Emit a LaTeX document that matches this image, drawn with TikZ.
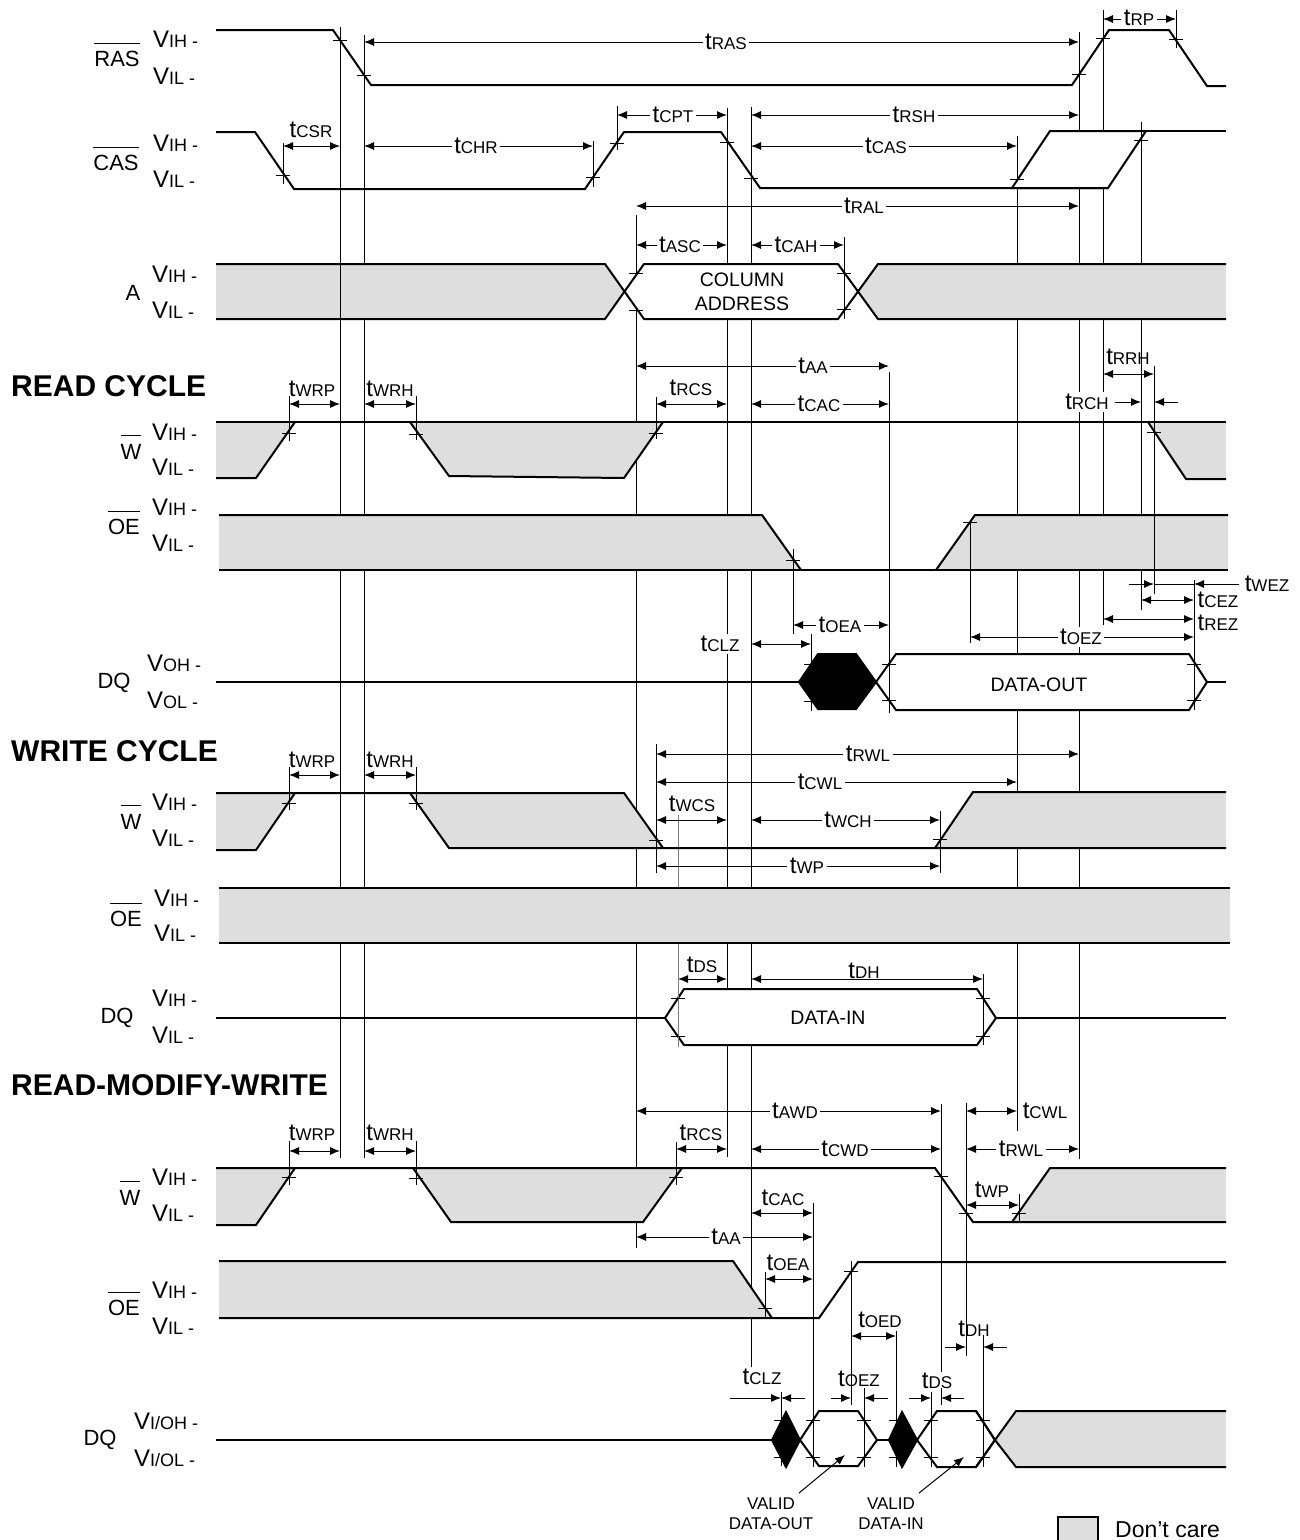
\documentclass[tikz,border=0pt]{standalone}
\usepackage{fontspec}
\setmainfont{Liberation Sans}
\usetikzlibrary{arrows.meta}
\definecolor{dontcare}{HTML}{DEDEDE}
\tikzset{
  sig/.style={line width=2pt,line join=miter},
  vln/.style={line width=1pt},
  tipln/.style={line width=1pt,-{Latex[length=10pt,width=8pt]}},
  dimln/.style={line width=1pt,{Latex[length=10pt,width=8pt]}-{Latex[length=10pt,width=8pt]}},
  tlb/.style={fill=white,inner sep=2.5pt},
  tnf/.style={inner sep=0pt},
  vlb/.style={anchor=west,inner sep=0pt},
  siglb/.style={inner sep=0pt,font=\fontsize{22}{22}\selectfont},
  boxlb/.style={inner sep=0pt,font=\fontsize{19.5}{24}\selectfont,align=center},
  smlb/.style={inner sep=0pt,font=\fontsize{17}{20}\selectfont,align=center},
  cyclb/.style={anchor=west,inner sep=0pt,font=\fontsize{30}{30}\selectfont\bfseries}
}
\newcommand{\tlab}[1]{{\fontsize{24}{24}\selectfont t}{\fontsize{17}{17}\selectfont #1}}
\newcommand{\vlab}[1]{{\fontsize{24}{24}\selectfont V}{\fontsize{18}{18}\selectfont #1}}
\newcommand{\sigbar}[1]{$\overline{\mbox{\rule{0pt}{22pt}#1}}$}
% [style]{from}{to}{y}{label x}{label y}{name}
\newcommand{\tdim}[7][tlb]{\draw[dimln] (#2,#4) -- (#3,#4); \node[#1] (t#7) at (#5,#6) {\tlab{#7}};}
\newcommand{\levels}[6]{\node[vlb] (#1h) at (#2,#3) {\vlab{#5}}; \node[vlb] (#1l) at (#2,#4) {\vlab{#6}};}
\begin{document}
\begin{tikzpicture}[x=1pt,y=-1pt]
\useasboundingbox (0,0) rectangle (1300,1540);

% long timing lines, the signals below hide them
\foreach \x/\ya/\yb in {340/27/1158,364/35/1158,636/215/1248,727/108/1157,751/107/1367,
  1017/136/1131,1079/32/1159,1103/10/625,1141/122/610,889/372/713}
  \draw[vln] (\x,\ya) -- (\x,\yb);
\draw[vln,gray] (678,815) -- (678,1047);

% RAS, CAS
\draw[sig] (216,30) -- (333,30) -- (371,85) -- (1072,85) -- (1109,30) -- (1169,30) -- (1207,86) -- (1226,86);
\filldraw[sig,fill=white] (1012,188) -- (1050,131) -- (1146,131) -- (1108,188) -- cycle;
\draw[sig] (216,132) -- (255,132) -- (294,189) -- (585,189) -- (624,132) -- (721,132) -- (760,188) -- (1108,188);
\draw[sig] (1146,131) -- (1226,131);

% A
\fill[dontcare] (216,264) -- (605,264) -- (624.5,292) -- (605,319) -- (216,319) -- cycle;
\fill[dontcare] (858,292) -- (878,264) -- (1226,264) -- (1226,319) -- (878,319) -- cycle;
\fill[white] (624.5,292) -- (644,264) -- (838,264) -- (858,292) -- (838,319) -- (644,319) -- cycle;
\draw[sig] (216,264) -- (605,264) -- (644,319) -- (838,319) -- (878,264) -- (1226,264);
\draw[sig] (216,319) -- (605,319) -- (644,264) -- (838,264) -- (878,319) -- (1226,319);

% read cycle W, OE, DQ
\fill[dontcare] (216,422) -- (295,422) -- (256,478) -- (216,478) -- cycle;
\fill[dontcare] (410,422) -- (663,422) -- (624,478) -- (449,476) -- cycle;
\fill[dontcare] (1148,422) -- (1226,422) -- (1226,479) -- (1186,479) -- cycle;
\draw[sig] (216,478) -- (256,478) -- (295,422);
\draw[sig] (216,422) -- (1226,422);
\draw[sig] (410,422) -- (449,476) -- (624,478) -- (663,422);
\draw[sig] (1148,422) -- (1186,479) -- (1226,479);
\fill[dontcare] (219,515) -- (762,515) -- (801,570) -- (219,570) -- cycle;
\fill[dontcare] (936,570) -- (975,515) -- (1228,515) -- (1228,570) -- cycle;
\draw[sig] (219,515) -- (762,515) -- (801,570);
\draw[sig] (936,570) -- (975,515) -- (1228,515);
\draw[sig] (219,570) -- (1228,570);
\draw[sig] (216,682) -- (799,682);
\draw[sig] (1207,682) -- (1226,682);
\filldraw[sig,fill=black] (799,682) -- (818,654) -- (856,654) -- (876,682) -- (856,709) -- (818,709) -- cycle;
\filldraw[sig,fill=white] (876,682) -- (896,654) -- (1189,654) -- (1207,682) -- (1189,710) -- (896,710) -- cycle;

% write cycle W, OE, DQ
\fill[dontcare] (216,793) -- (295,793) -- (256,850) -- (216,850) -- cycle;
\fill[dontcare] (410,793) -- (624,793) -- (663,848) -- (449,848) -- cycle;
\fill[dontcare] (935,848) -- (973,792) -- (1226,792) -- (1226,848) -- cycle;
\draw[sig] (216,850) -- (256,850) -- (295,793);
\draw[sig] (216,793) -- (624,793) -- (663,848);
\draw[sig] (410,793) -- (449,848) -- (1226,848);
\draw[sig] (935,848) -- (973,792) -- (1226,792);
\fill[dontcare] (219,888) rectangle (1230,943);
\draw[sig] (219,888) -- (1230,888);
\draw[sig] (219,943) -- (1230,943);
\draw[sig] (216,1018) -- (665,1018);
\draw[sig] (996,1018) -- (1226,1018);
\filldraw[sig,fill=white] (665,1018) -- (684,989) -- (977,989) -- (996,1018) -- (977,1045) -- (684,1045) -- cycle;

% read-modify-write W, OE, DQ
\fill[dontcare] (216,1168) -- (295,1168) -- (256,1225) -- (216,1225) -- cycle;
\fill[dontcare] (413,1168) -- (682,1168) -- (643,1222) -- (451,1222) -- cycle;
\fill[dontcare] (1012,1223) -- (1050,1168) -- (1226,1168) -- (1226,1223) -- cycle;
\draw[sig] (216,1225) -- (256,1225) -- (295,1168);
\draw[sig] (216,1168) -- (935,1168) -- (973,1222) -- (1226,1222);
\draw[sig] (413,1168) -- (451,1222) -- (643,1222) -- (682,1168);
\draw[sig] (1012,1222) -- (1050,1168) -- (1226,1168);
\fill[dontcare] (219,1261) -- (733,1261) -- (772,1318) -- (219,1318) -- cycle;
\draw[sig] (219,1261) -- (733,1261) -- (772,1318);
\draw[sig] (219,1318) -- (819,1318) -- (858,1262) -- (1226,1262);
\draw[sig] (216,1440) -- (772,1440);
\draw[sig] (877,1440) -- (889,1440);
\filldraw[sig,fill=black] (772,1440) -- (786,1412) -- (800,1440) -- (786,1467) -- cycle;
\filldraw[sig,fill=white] (800,1440) -- (819,1411) -- (858,1411) -- (877,1440) -- (858,1466) -- (819,1466) -- cycle;
\filldraw[sig,fill=black] (889,1440) -- (902,1412) -- (917,1440) -- (902,1467) -- cycle;
\filldraw[sig,fill=white] (917,1440) -- (937,1411) -- (976,1411) -- (995,1440) -- (976,1467) -- (937,1467) -- cycle;
\fill[dontcare] (995,1440) -- (1016,1411) -- (1226,1411) -- (1226,1467) -- (1016,1467) -- cycle;
\draw[sig] (976,1411) -- (995,1440) -- (1016,1467) -- (1226,1467);
\draw[sig] (976,1467) -- (995,1440) -- (1016,1411) -- (1226,1411);

% short lines on top of the signals
\foreach \x/\ya/\yb in {340/264/319,1141/122/145,1176/10/48,283/143/184,593/141/187,617/106/150,844/237/319,
  289/396/441,416/396/440,656/397/439,1154/366/594,793/549/634,970/522/643,811/634/711,889/655/713,1194/580/710,
  289/767/810,416/767/810,656/744/873,940/811/873,983/974/1045,
  289/1141/1185,416/1141/1185,676/1142/1185,941/1104/1372,966/1103/1356,1019/1194/1222,
  813/1203/1467,765/1272/1318,851/1261/1405,864/1388/1467,896/1331/1467,781/1392/1466,931/1392/1467,941/1388/1405,983/1335/1467}
  \draw[vln] (\x,\ya) -- (\x,\yb);
\draw[vln,gray] (678,989) -- (678,1047);

% ticks
\foreach \x/\y in {340/40,364/75,1079/74,1103/38,1176/39,283/175,593/177,617/143,727/142,751/178,1017/179,1141/140,
  636/273,636/310,844/273,844/309,289/433,416/434,656/433,1154/432,793/560,970/522,811/664,811/701,889/664,889/700,1194/664,1194/700,
  289/803,416/803,656/840,940/839,678/998,678/1036,983/998,983/1036,
  289/1177,416/1178,676/1177,941/1176,966/1213,1019/1213,765/1308,851/1271,
  781/1420,781/1457,813/1420,813/1457,864/1420,864/1457,896/1420,896/1457,931/1420,931/1457,983/1420,983/1457}
  \draw[vln] (\x-7,\y) -- (\x+7,\y);

% signal names and levels
\node[siglb] (ras) at (117,55) {\sigbar{RAS}};
\levels{ras}{153}{39}{76}{IH -}{IL -}
\node[siglb] (cas) at (116,159) {\sigbar{CAS}};
\levels{cas}{153}{143}{179}{IH -}{IL -}
\node[siglb] (addr) at (133,293) {A};
\levels{addr}{152}{274}{310}{IH -}{IL -}
\node[siglb] (wrd) at (131,447) {\sigbar{W}};
\levels{wrd}{152}{432}{467}{IH -}{IL -}
\node[siglb] (oerd) at (124,523) {\sigbar{OE}};
\levels{oerd}{152}{507}{543}{IH -}{IL -}
\node[siglb] (dqrd) at (114,683) {DQ};
\levels{dqrd}{147}{663}{700}{OH -}{OL -}
\node[siglb] (wwr) at (131,817) {\sigbar{W}};
\levels{wwr}{152}{802}{838}{IH -}{IL -}
\node[siglb] (oewr) at (126,915) {\sigbar{OE}};
\levels{oewr}{154}{898}{933}{IH -}{IL -}
\node[siglb] (dqwr) at (117,1018) {DQ};
\levels{dqwr}{152}{998}{1035}{IH -}{IL -}
\node[siglb] (wrm) at (130,1193) {\sigbar{W}};
\levels{wrm}{152}{1177}{1213}{IH -}{IL -}
\node[siglb] (oerm) at (124,1304) {\sigbar{OE}};
\levels{oerm}{152}{1290}{1326}{IH -}{IL -}
\node[siglb] (dqrm) at (100,1440) {DQ};
\levels{dqrm}{134}{1421}{1458}{I/OH -}{I/OL -}

\node[cyclb] (rdcyc) at (11,386) {READ CYCLE};
\node[cyclb] (wrcyc) at (11,751) {WRITE CYCLE};
\node[cyclb] (rmcyc) at (11,1085) {READ-MODIFY-WRITE};

\node[boxlb] (coladdr) at (742,292) {COLUMN\\ADDRESS};
\node[boxlb] (dout) at (1039,685) {DATA-OUT};
\node[boxlb] (din) at (828,1018) {DATA-IN};

% top three signals
\tdim{364}{1079}{42}{726}{42}{RAS}
\tdim{1103}{1176}{19}{1139}{18}{RP}
\tdim[tnf]{283}{340}{146}{311}{130}{CSR}
\tdim{364}{593}{146}{476}{146}{CHR}
\tdim{617}{727}{115}{673}{115}{CPT}
\tdim{751}{1079}{115}{914}{115}{RSH}
\tdim{751}{1017}{146}{886}{146}{CAS}
\tdim{636}{1079}{206}{864}{206}{RAL}
\tdim{636}{727}{245}{680}{245}{ASC}
\tdim{751}{844}{245}{796}{245}{CAH}

% read cycle
\tdim[tnf]{289}{340}{404}{312}{389}{WRP}
\tdim[tnf]{364}{416}{404}{390}{389}{WRH}
\tdim{636}{889}{366}{813}{366}{AA}
\tdim[tnf]{656}{727}{404}{691}{388}{RCS}
\tdim{751}{889}{404}{819}{404}{CAC}
\tdim[tnf]{1103}{1154}{374}{1128}{357}{RRH}
\node[tlb] (tRCH) at (1087,402) {\tlab{RCH}};
\draw[tipln] (1115,402) -- (1141,402);
\draw[tipln] (1178,402) -- (1154,402);
\draw[tipln] (1129,584) -- (1154,584);
\draw[vln] (1154,584) -- (1194,584);
\draw[tipln] (1239,584) -- (1194,584);
\node[tnf] (tWEZ) at (1267,584) {\tlab{WEZ}};
\tdim[tnf]{1141}{1194}{600}{1218}{600}{CEZ}
\tdim[tnf]{1103}{1194}{619}{1218}{623}{REZ}
\tdim{970}{1194}{637}{1081}{637}{OEZ}
\tdim{793}{889}{625}{840}{625}{OEA}
\draw[dimln] (751,644) -- (811,644);
\node[tlb] (tCLZ) at (720,644) {\tlab{CLZ}};

% write cycle
\tdim[tnf]{289}{340}{775}{312}{760}{WRP}
\tdim[tnf]{364}{416}{775}{390}{760}{WRH}
\tdim{656}{1079}{754}{868}{754}{RWL}
\tdim{656}{1017}{782}{820}{782}{CWL}
\tdim[tnf]{656}{727}{820}{692}{804}{WCS}
\tdim{751}{940}{820}{848}{820}{WCH}
\tdim{656}{940}{866}{807}{866}{WP}
\tdim[tnf]{678}{727}{979}{702}{965}{DS}
\tdim[tnf]{751}{983}{979}{864}{971}{DH}

% read-modify-write
\tdim[tnf]{289}{340}{1151}{312}{1133}{WRP}
\tdim[tnf]{364}{416}{1151}{390}{1133}{WRH}
\tdim{636}{941}{1111}{795}{1111}{AWD}
\tdim[tnf]{676}{727}{1149}{701}{1133}{RCS}
\tdim{751}{941}{1149}{845}{1149}{CWD}
\tdim[tnf]{966}{1017}{1111}{1045}{1111}{CWL}
\tdim{966}{1079}{1149}{1021}{1149}{RWL}
\tdim[tnf]{966}{1019}{1205}{992}{1190}{WP}
\tdim[tnf]{751}{813}{1213}{783}{1198}{CAC}
\tdim{636}{813}{1237}{726}{1237}{AA}
\tdim[tnf]{765}{813}{1279}{788}{1263}{OEA}
\tdim[tnf]{851}{896}{1336}{880}{1320}{OED}
\draw[tipln] (945,1347) -- (966,1347);
\draw[tipln] (1007,1347) -- (983,1347);
\node[tnf] (tDH) at (974,1329) {\tlab{DH}};
\draw[tipln] (730,1398) -- (781,1398);
\draw[tipln] (805,1398) -- (781,1398);
\node[tnf] (tCLZ) at (762,1377) {\tlab{CLZ}};
\draw[tipln] (831,1398) -- (851,1398);
\draw[tipln] (888,1398) -- (864,1398);
\node[tnf] (tOEZ) at (859,1379) {\tlab{OEZ}};
\draw[tipln] (909,1398) -- (931,1398);
\draw[tipln] (964,1398) -- (941,1398);
\node[tnf] (tDS) at (937,1381) {\tlab{DS}};

% valid data notes and legend
\coordinate (voutend) at (845,1455);
\coordinate (vinend) at (964,1457);
\node[smlb] (vout) at (771,1514) {VALID\\DATA-OUT};
\node[smlb] (vin) at (891,1514) {VALID\\DATA-IN};
\draw[tipln] (799,1493) -- (voutend);
\draw[tipln] (919,1493) -- (vinend);
\node[draw,fill=dontcare,line width=2pt,minimum width=40pt,minimum height=44pt,inner sep=0pt] (legbox) at (1078,1539) {};
\node[inner sep=0pt,anchor=west,font=\fontsize{23}{23}\selectfont] (legtxt) at (1115,1530) {Don’t care};
\end{tikzpicture}
\end{document}
